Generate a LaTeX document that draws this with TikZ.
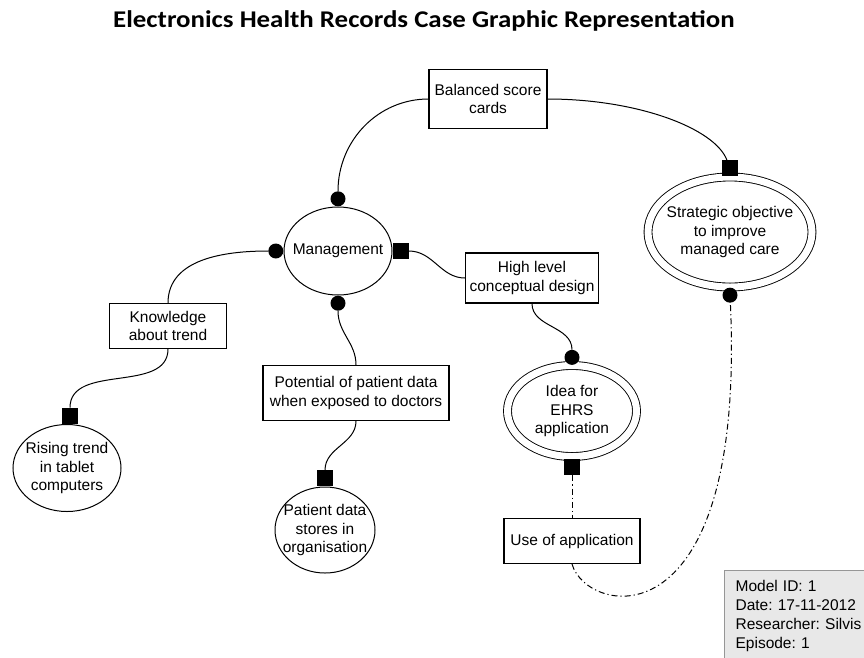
\documentclass[tikz,border=0pt]{standalone}
\usepackage{fontspec}
\setmainfont{Liberation Sans}
\newfontfamily\titlefont{Carlito}[FakeStretch=1.12]
\usepackage{tikz}
\usetikzlibrary{shapes.geometric, positioning}
\definecolor{legendgray}{RGB}{232,232,232}
\definecolor{legendframe}{RGB}{150,150,150}
\newcommand{\labelsize}{\fontsize{15.5}{18.5}\selectfont}
\frenchspacing

\tikzset{
  conceptbox/.style={draw, line width=1.1pt, rectangle, align=center, font=\labelsize, inner sep=2pt},
  entity/.style={draw, line width=1pt, ellipse, align=center, font=\labelsize, inner xsep=-8pt, inner ysep=0pt},
  goal/.style={entity, double, double distance=7pt, line width=0.9pt},
  dotend/.style={circle, fill=black, minimum size=15pt, inner sep=0pt},
  sqend/.style={rectangle, fill=black, minimum size=16pt, inner sep=0pt},
  link/.style={line width=1pt},
  dashlink/.style={line width=1pt, dash pattern=on 6pt off 3pt on 1.2pt off 3pt},
}

\begin{document}
\begin{tikzpicture}[x=1pt,y=1pt]
    \useasboundingbox (0,0) rectangle (864,-657);
    \node[font={\titlefont\bfseries\fontsize{24}{28}\selectfont}, anchor=base] (title) at (424,-27)
        {Electronics Health Records Case Graphic Representation};

    % concepts and things
    \node[conceptbox, minimum width=118pt, minimum height=59pt] (bsc) at (488,-99) {Balanced score\\cards};
    \node[entity, minimum width=108pt, minimum height=88pt] (mgmt) at (338,-251) {Management};
    \node[conceptbox, minimum width=133pt, minimum height=50pt] (hlcd) at (532,-278) {High level\\conceptual design};
    \node[conceptbox, minimum width=117pt, minimum height=45pt] (kat) at (168,-326) {Knowledge\\about trend};
    \node[conceptbox, minimum width=186pt, minimum height=55pt] (pot) at (356,-393) {Potential of patient data\\when exposed to doctors};
    \node[entity, minimum width=108pt, minimum height=87pt] (rising) at (67,-468) {Rising trend\\in tablet\\computers};
    \node[entity, minimum width=100pt, minimum height=86pt] (patient) at (325,-530) {Patient data\\stores in\\organisation};
    \node[goal, minimum width=129pt, minimum height=91pt] (idea) at (572,-411) {Idea for\\EHRS\\application};
    \node[goal, minimum width=164pt, minimum height=110pt] (strat) at (730,-232) {Strategic objective\\to improve\\managed care};
    \node[conceptbox, minimum width=136pt, minimum height=45pt] (use) at (572,-541) {Use of application};

    % connector ends
    \node[dotend, above=0pt of mgmt] (mgmtT) {};
    \node[dotend, left=0pt of mgmt] (mgmtL) {};
    \node[sqend, right=0pt of mgmt] (mgmtR) {};
    \node[dotend, below=0pt of mgmt] (mgmtB) {};
    \node[sqend, above=0pt of rising, xshift=3pt] (risingT) {};
    \node[sqend, above=0pt of patient] (patientT) {};
    \node[dotend, above=0pt of idea] (ideaT) {};
    \node[sqend, below=2pt of idea] (ideaB) {};
    \node[sqend, above=0pt of strat] (stratT) {};
    \node[dotend, below=0pt of strat] (stratB) {};

    % links
    \draw[link] (bsc.west) to[out=180,in=90] (mgmtT);
    \draw[link] (bsc.east) .. controls +(90,0) and +(-15,40) .. (stratT);
    \draw[link] (mgmtL) to[out=180,in=90] (kat.north);
    \draw[link] (kat.south) to[out=-90,in=90] (risingT);
    \draw[link] (mgmtR) to[out=0,in=180] (hlcd.west);
    \draw[link] (mgmtB) to[out=-90,in=90] (pot.north);
    \draw[link] (pot.south) to[out=-90,in=90] (patientT);
    \draw[link] (hlcd.south) to[out=-90,in=90] (ideaT);
    \draw[dashlink] (ideaB) -- (use.north);
    \draw[dashlink] (use.south) .. controls +(15,-52) and +(16,-353) .. (stratB);

    \node[draw=legendframe, fill=legendgray, line width=1.2pt, align=left, anchor=north west,
          font=\fontsize{15.5}{19}\selectfont, inner xsep=11pt, inner ysep=10pt, text width=150pt]
          (info) at (724,-570) {Model ID: 1\\Date: 17-11-2012\\Researcher: Silvis\\Episode: 1};
\end{tikzpicture}
\end{document}
